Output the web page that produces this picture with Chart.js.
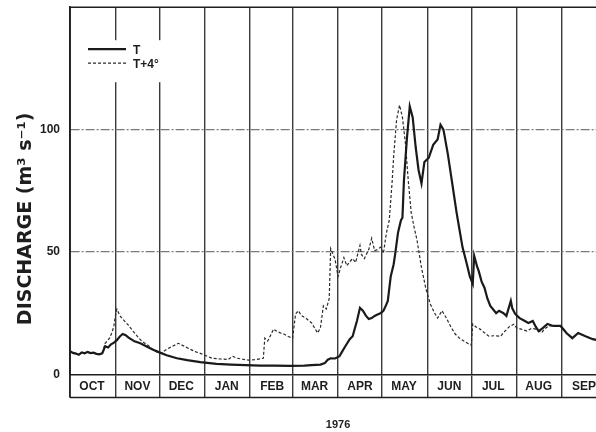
<!DOCTYPE html>
<html><head><meta charset="utf-8">
<script src="https://cdn.jsdelivr.net/npm/chart.js@4/dist/chart.umd.min.js"></script>
<style>
html,body{margin:0;padding:0;background:#fff;overflow:hidden;width:596px;height:432px}
#wrap{width:620px;height:432px}
</style></head>
<body><div id="wrap"><canvas id="c" width="620" height="432"></canvas></div>
<script>
// ---- data ----
const months = ['OCT','NOV','DEC','JAN','FEB','MAR','APR','MAY','JUN','JUL','AUG','SEP'];
const monthStartDays = [0,31,61,92,123,152,183,213,244,274,305,336,366];
const yTicks = [0,50,100];
const yearLabel = '1976';
const yTitle = 'DISCHARGE (m³ s⁻¹)';
const seriesNames = ['T','T+4°'];

const tDays = [0,2,4,6,8,10,12,14,16,18,20,22,24,26,28,30,32,34,36,38,40,44,48,52,56,61,66,73,80,89,100,110,120,130,140,150,160,165,171,174,176,178,181,184,186,188,191,193,196,198,200,202,204,206,208,210,212,214,215,217,219,221,222,224,226,227,228,230,232,234,236,238,240,242,245,248,251,253,255,258,260,262,264,266,268,271,273,275,276,278,279,281,283,285,287,289,291,293,296,298,301,302,304,307,310,313,316,318,320,323,326,330,335,339,343,347,352,357,360,363,366];
const tValues = [9.5,8.8,8.5,8,9,8.6,9.2,8.7,8.9,8.4,8.2,8.6,11.5,11,12.3,13,14,15.5,16.5,16,15,13.5,12.7,11.5,10.3,9,7.8,6.6,5.8,5,4.3,4,3.8,3.6,3.6,3.5,3.6,3.8,4,4.6,6,6.6,6.5,7.4,9.5,11.5,14.4,15.6,22,27.2,26,24,22.6,23,23.9,24.5,25,26,27.2,30,40,45,49,58,63,64,79,96,109.5,105,93,83.5,78,86.8,88.5,93.8,96,102,100,90,82,74,66,59,52,45,40,37,48.5,44,42.4,38,35.4,31,28,26.5,25,26,25,23.9,30,27,24.7,23,22,21,21.8,19.5,17.7,19,20.6,19.8,19.8,16.9,14.8,16.9,15.6,14.4,14,13.5,13];

const t4Days = [0,2,4,6,8,10,12,14,16,18,20,22,24,27,29,30,31,32,34,36,40,43,46,49,53,57,61,63,66,70,74,78,82,86,89,93,97,103,108,111,114,118,122,126,130,132,133,135,137,139,141,144,146,149,152,154,156,158,161,165,167,169,171,173,175,177,178,181,183,185,187,189,191,193,195,198,199,201,204,206,208,210,212,214,216,218,220,221,223,225,227,229,231,233,235,237,240,243,246,249,251,254,257,260,263,266,269,272,274,275,277,280,283,286,290,294,297,300,303,305,308,312,315,318,322,324,327,330,335,339,343,347,352,357,360,363,366];
const t4Values = [9.5,8.8,8.5,8,9,8.6,9.2,8.7,8.9,8.4,8.2,8.6,12.7,14.8,17.7,20,24,26.7,24,22.6,20,17.7,15.5,13.6,12,10,8.6,9,10.3,11.5,12.7,11.5,10.3,9.2,8.6,7.6,6.6,6.3,6.1,7.4,6.6,6.2,5.8,6,6.4,6.6,14.8,13.6,16,18.5,17.7,16.8,16.5,15.5,14.8,24.7,26,24,23,21,19,16.9,19,28,26.7,31,51.4,47,40,44,47.7,44.4,46,47.3,45.7,52.7,49,47.3,51,55.6,50.6,51,52,49.4,57.6,63,79,89,104,110,105,94.6,79,66,60,54.7,43.6,35,28.8,25,23,26,23,19.5,16.5,14.8,13.6,12.5,11.9,20.6,19.5,18.5,17,15.6,15.8,15.6,17.7,19.5,20.5,19,18.5,17.7,18.8,18.5,17,18.5,19.8,19.8,19.8,16.9,14.8,16.9,15.6,14.4,14,13.5,13];

// ---- chart ----
const FONT = "'Liberation Sans', Arial, sans-serif";
const BAND = 23;
const ink = '#1e1e1e';

const frameAndLegend = {
  id: 'frameAndLegend',
  beforeDatasetsDraw(chart) {
    const {ctx, chartArea: a} = chart;
    ctx.save();
    const bx = a.left + 10, by = a.top + 33;
    ctx.fillStyle = '#fff';
    ctx.fillRect(bx, by, 95, 42);
    chart.data.datasets.forEach((ds, i) => {
      const y = by + 9 + i * 14;
      ctx.beginPath();
      ctx.strokeStyle = ds.borderColor;
      ctx.lineWidth = ds.borderWidth;
      ctx.setLineDash(ds.borderDash || []);
      ctx.moveTo(a.left + 18, y);
      ctx.lineTo(a.left + 56, y);
      ctx.stroke();
      ctx.setLineDash([]);
      ctx.fillStyle = ink;
      ctx.font = 'bold 12px ' + FONT;
      ctx.textBaseline = 'middle';
      ctx.textAlign = 'left';
      ctx.fillText(ds.label, a.left + 63, y + 1);
    });
    ctx.restore();
  },
  afterDraw(chart) {
    const {ctx, chartArea: a} = chart;
    ctx.save();
    ctx.strokeStyle = ink;
    ctx.lineWidth = 1.5;
    ctx.beginPath();
    ctx.moveTo(a.left, a.top); ctx.lineTo(a.right, a.top);
    ctx.moveTo(a.left, a.bottom + BAND); ctx.lineTo(a.right, a.bottom + BAND);
    ctx.moveTo(a.left, a.top); ctx.lineTo(a.left, a.bottom + BAND);
    ctx.stroke();
    // rotated y-axis title
    ctx.translate(a.left - 44, (a.top + a.bottom) / 2 + 28);
    ctx.rotate(-Math.PI / 2);
    ctx.fillStyle = ink;
    ctx.font = "bold 19px 'DejaVu Sans', sans-serif";
    ctx.textAlign = 'center';
    ctx.textBaseline = 'middle';
    ctx.fillText(yTitle, 0, 0);
    ctx.restore();
  }
};

new Chart(document.getElementById('c'), {
  type: 'line',
  data: {
    datasets: [
      {
        label: seriesNames[0],
        data: tDays.map((d, i) => ({x: d, y: tValues[i]})),
        borderColor: '#1a1a1a', borderWidth: 2.2, pointRadius: 0, tension: 0, fill: false
      },
      {
        label: seriesNames[1],
        data: t4Days.map((d, i) => ({x: d, y: t4Values[i]})),
        borderColor: '#2a2a2a', borderWidth: 1.2, borderDash: [3, 2], pointRadius: 0, tension: 0, fill: false
      }
    ]
  },
  options: {
    responsive: false, animation: false, devicePixelRatio: 1,
    layout: {padding: {left: 40, top: 0, right: 14, bottom: 0}},
    plugins: {legend: {display: false}, tooltip: {enabled: false}},
    scales: {
      x: {
        type: 'linear', min: 0, max: 366,
        afterBuildTicks: (axis) => { axis.ticks = monthStartDays.map(v => ({value: v})); },
        grid: {color: '#3a3a3a', lineWidth: 1.4, drawTicks: true, tickLength: BAND, tickColor: '#3a3a3a', tickWidth: 1.4},
        border: {display: true, color: ink, width: 1.6},
        ticks: {
          autoSkip: false, maxRotation: 0, minRotation: 0,
          padding: -18, labelOffset: 22,
          color: ink, font: {family: FONT, size: 12, weight: 'bold'},
          callback: (v, i) => (i < months.length ? months[i] : '')
        },
        title: {display: true, text: yearLabel, color: ink, font: {family: FONT, size: 11, weight: 'bold'}, padding: {top: 43, bottom: 0}}
      },
      y: {
        min: 0, max: 150,
        afterBuildTicks: (axis) => { axis.ticks = yTicks.map(v => ({value: v})); },
        grid: {color: (c) => (c.tick && c.tick.value === 0 ? 'rgba(0,0,0,0)' : '#7a7a7a'), lineWidth: 1.2, drawTicks: true, tickLength: 10, tickColor: 'rgba(0,0,0,0)'},
        border: {display: true, color: ink, width: 1.6, dash: [9, 2, 2, 2]},
        ticks: {padding: 0, color: ink, font: {family: FONT, size: 12, weight: 'bold'}}
      }
    }
  },
  plugins: [frameAndLegend]
});
</script>
</body></html>
